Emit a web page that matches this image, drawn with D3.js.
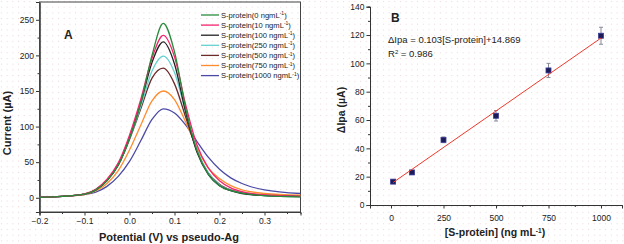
<!DOCTYPE html>
<html lang="en">
<head>
<meta charset="UTF-8">
<title>S-protein DPV</title>
<script src="https://cdn.jsdelivr.net/npm/d3@7"></script>
<style>
  body { margin: 0; background: #fff; }
  text { font-family: Arial, "Liberation Sans", sans-serif; fill: #222; }
</style>
</head>
<body>
<script>
// ---- panel A: DPV curves ----
const potentials = [-0.2, -0.15, -0.1, -0.075, -0.05, -0.025, 0, 0.025, 0.05, 0.075, 0.1, 0.125, 0.15, 0.175, 0.2, 0.225, 0.25, 0.3, 0.38];
const seriesLabels = ["0", "10", "100", "250", "500", "750", "1000"];
const seriesColors = ["#2a8a3c", "#f4246e", "#222222", "#66d0d0", "#6e2a2a", "#ff8c2e", "#4b4ba6"];
const current0    = [0.5, 2, 5, 11, 24, 46, 83, 133, 200, 245, 205, 125, 66, 33, 17, 10, 6.5, 3, 1.2];
const current10   = [0.5, 2, 5.5, 12, 26, 49, 88, 138, 196, 228, 198, 130, 74, 42, 24, 14, 8.5, 4, 2];
const current100  = [0.5, 2, 5, 11, 24, 46, 84, 133, 190, 219, 188, 120, 64, 33, 17, 10, 6, 3, 1.5];
const current250  = [0.5, 2, 5, 11, 24, 46, 83, 128, 178, 199, 176, 120, 67, 35, 18, 10.5, 6.5, 3, 1.5];
const current500  = [0.5, 2, 5, 11, 24, 46, 82, 125, 168, 182, 160, 113, 66, 35, 19, 11, 7, 3.5, 2];
const current750  = [0.5, 2, 4.5, 9.5, 20, 38, 67, 102, 136, 150, 138, 106, 70, 42, 27, 17, 11, 6, 3.5];
const current1000 = [1, 2, 4.5, 8, 16, 30, 51, 80, 110, 125, 119, 102, 79, 57, 40, 28, 20, 11, 6];
const currents = [current0, current10, current100, current250, current500, current750, current1000];
const aYTicks = [0, 50, 100, 150, 200, 250];
const aXTicks = [-0.2, -0.1, 0.0, 0.1, 0.2, 0.3];

// ---- panel B: calibration ----
const conc = [10, 100, 250, 500, 750, 1000];
const dIpa = [16.5, 23, 46, 63, 95, 119.5];
const dIpaErr = [1, 1, 2, 3.7, 5, 6];
const fitSlope = 0.103;
const fitIntercept = 14.869;
const bXTicks = [0, 250, 500, 750, 1000];
const bYTicks = [0, 20, 40, 60, 80, 100, 120, 140];

const width = 624, height = 244;
const svg = d3.select("body").append("svg")
    .attr("width", width)
    .attr("height", height);

// faint dotted background like the source image
const pat = svg.append("defs").append("pattern")
    .attr("id", "dots").attr("width", 5.7).attr("height", 5.7)
    .attr("patternUnits", "userSpaceOnUse");
pat.append("rect").attr("x", 1).attr("y", 1).attr("width", 1).attr("height", 1).attr("fill", "#ecd3d8");
svg.append("rect").attr("width", width).attr("height", height).attr("fill", "url(#dots)");

function styleAxis(g) {
    g.select(".domain").attr("stroke", "#333");
    g.selectAll(".tick line").attr("stroke", "#333");
    g.selectAll(".tick text").attr("fill", "#222").style("font-size", "8.5px")
        .style("font-family", "Arial, 'Liberation Sans', sans-serif");
}

// ===== Panel A =====
const xA = d3.scaleLinear().domain([-0.2, 0.38]).range([39.5, 300.5]);
const yA = d3.scaleLinear().domain([-20, 275]).range([212, 2]);

const gA = svg.append("g");

gA.append("g").attr("transform", "translate(0,212)")
    .call(d3.axisBottom(xA).tickValues(d3.range(-0.15, 0.38, 0.1)).tickSize(2).tickFormat(""))
    .call(styleAxis);
gA.append("g").attr("transform", "translate(0,212)")
    .call(d3.axisBottom(xA).tickValues(aXTicks).tickSize(3.5).tickPadding(2).tickFormat(d3.format(".1f")))
    .call(styleAxis);
gA.append("g").attr("transform", "translate(39.5,0)")
    .call(d3.axisLeft(yA).tickValues([25, 75, 125, 175, 225]).tickSize(2).tickFormat(""))
    .call(styleAxis);
gA.append("g").attr("transform", "translate(39.5,0)")
    .call(d3.axisLeft(yA).tickValues(aYTicks).tickSize(3.5).tickPadding(2))
    .call(styleAxis);

gA.append("rect")
    .attr("x", xA.range()[0]).attr("y", yA.range()[1])
    .attr("width", xA.range()[1] - xA.range()[0])
    .attr("height", yA.range()[0] - yA.range()[1])
    .attr("fill", "none").attr("stroke", "#444").attr("stroke-width", 1);

const lineA = d3.line()
    .x((d, i) => xA(potentials[i]))
    .y(d => yA(d))
    .curve(d3.curveMonotoneX);

// draw lowest peak first so the big ones sit on top
gA.append("g").selectAll("path")
    .data(currents.map((c, i) => ({ c, i })).reverse())
    .join("path")
    .attr("d", d => lineA(d.c))
    .attr("fill", "none")
    .attr("stroke", d => seriesColors[d.i])
    .attr("stroke-width", 1.3);

// legend
const legA = gA.append("g");
seriesLabels.forEach((lab, i) => {
    const y = 15 + i * 10.1;
    legA.append("line").attr("x1", 201).attr("x2", 219).attr("y1", y).attr("y2", y)
        .attr("stroke", seriesColors[i]).attr("stroke-width", 1.3);
    const t = legA.append("text").attr("x", 221).attr("y", y + 2.6).style("font-size", "7.6px");
    t.append("tspan").text("S-protein(" + lab + " ngmL");
    t.append("tspan").attr("dy", -2.5).style("font-size", "5px").text("-1");
    t.append("tspan").attr("dy", 2.5).text(")");
});

gA.append("text").attr("x", 64).attr("y", 39).style("font-size", "12px").style("font-weight", "bold").text("A");

gA.append("text")
    .attr("transform", "translate(11,123) rotate(-90)")
    .attr("text-anchor", "middle")
    .style("font-size", "11px").style("font-weight", "bold")
    .text("Current (µA)");
gA.append("text")
    .attr("x", 169).attr("y", 241)
    .attr("text-anchor", "middle")
    .style("font-size", "11px").style("font-weight", "bold")
    .text("Potential (V) vs pseudo-Ag");

// ===== Panel B =====
const xB = d3.scaleLinear().domain([-100, 1100]).range([370, 622]);
const yB = d3.scaleLinear().domain([0, 140]).range([205, 6.7]);
const gB = svg.append("g");

gB.append("g").attr("transform", "translate(0,205)")
    .call(d3.axisBottom(xB).tickValues([125, 375, 625, 875]).tickSize(2).tickFormat(""))
    .call(styleAxis);
gB.append("g").attr("transform", "translate(0,205)")
    .call(d3.axisBottom(xB).tickValues(bXTicks).tickSize(3.5).tickPadding(6).tickFormat(d3.format("d")))
    .call(styleAxis);
gB.append("g").attr("transform", "translate(370,0)")
    .call(d3.axisLeft(yB).tickValues(d3.range(10, 140, 20)).tickSize(2).tickFormat(""))
    .call(styleAxis);
gB.append("g").attr("transform", "translate(370,0)")
    .call(d3.axisLeft(yB).tickValues(bYTicks).tickSize(3.5).tickPadding(2))
    .call(styleAxis);

// error bars
const eb = gB.append("g").attr("stroke", "#8a8a9a").attr("stroke-width", 1);
conc.forEach((c, i) => {
    const x = xB(c), y0 = yB(dIpa[i] - dIpaErr[i]), y1 = yB(dIpa[i] + dIpaErr[i]);
    eb.append("line").attr("x1", x).attr("x2", x).attr("y1", y0).attr("y2", y1);
    eb.append("line").attr("x1", x - 2).attr("x2", x + 2).attr("y1", y0).attr("y2", y0);
    eb.append("line").attr("x1", x - 2).attr("x2", x + 2).attr("y1", y1).attr("y2", y1);
});

gB.append("g").selectAll("rect")
    .data(conc)
    .join("rect")
    .attr("x", d => xB(d) - 2.5)
    .attr("y", (d, i) => yB(dIpa[i]) - 2.5)
    .attr("width", 5).attr("height", 5)
    .attr("fill", "#1c1c55").attr("stroke", "#3b3b9a").attr("stroke-width", 0.8);

const xFit = d3.extent(conc);
gB.append("line")
    .attr("x1", xB(xFit[0])).attr("y1", yB(fitSlope * xFit[0] + fitIntercept))
    .attr("x2", xB(xFit[1])).attr("y2", yB(fitSlope * xFit[1] + fitIntercept))
    .attr("stroke", "#ee3a2c").attr("stroke-width", 1);

gB.append("text").attr("x", 391).attr("y", 22).style("font-size", "12px").style("font-weight", "bold").text("B");
gB.append("text").attr("x", 388).attr("y", 43).style("font-size", "9.5px")
    .text("\u0394Ipa = " + fitSlope + "[S-protein]+" + fitIntercept);
const r2 = gB.append("text").attr("x", 388).attr("y", 57).style("font-size", "9.5px");
r2.append("tspan").text("R");
r2.append("tspan").attr("dy", -3).style("font-size", "6px").text("2");
r2.append("tspan").attr("dy", 3).text("  = 0.986");

gB.append("text")
    .attr("transform", "translate(345,110) rotate(-90)")
    .attr("text-anchor", "middle")
    .style("font-size", "10.5px").style("font-weight", "bold")
    .text("\u0394Ipa (µA)");
const xt = gB.append("text")
    .attr("x", 495).attr("y", 236)
    .attr("text-anchor", "middle")
    .style("font-size", "10.5px").style("font-weight", "bold");
xt.append("tspan").text("[S-protein] (ng mL");
xt.append("tspan").attr("dy", -3.5).style("font-size", "6.5px").text("-1");
xt.append("tspan").attr("dy", 3.5).text(")");
</script>
</body>
</html>
